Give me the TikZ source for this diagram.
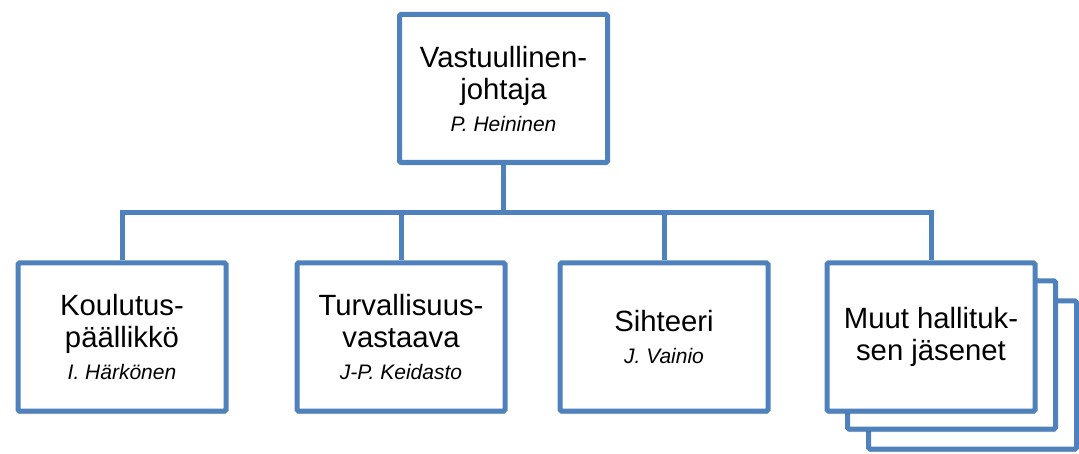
\documentclass[tikz,border=0pt]{standalone}
\usepackage{fontspec}
\setmainfont{Liberation Sans}
\usetikzlibrary{shadows}
\definecolor{boxblue}{RGB}{79,129,189}
\newcommand{\mainfnt}{\fontsize{29.3}{32}\selectfont}
\newcommand{\namefnt}{\fontsize{21}{28}\selectfont\itshape}
\tikzset{
  orgbox/.style={draw=boxblue, line width=5pt, fill=white, rounded corners=1.5pt,
    minimum width=208pt, minimum height=148pt, align=center, inner sep=0pt,
    font=\mainfnt,
    drop shadow={shadow xshift=0.5pt, shadow yshift=-3pt, opacity=0.18, fill=black}},
  conn/.style={draw=boxblue, line width=5pt, line join=miter}
}
\begin{document}
\begin{tikzpicture}[x=1pt,y=-1pt]
\useasboundingbox (0,0) rectangle (1079,454);
\node[orgbox, minimum width=208pt, minimum height=148pt] (top) at (503.5,88.5)
  {Vastuullinen-\\johtaja\\\namefnt P. Heininen};
\node[orgbox] (kp) at (122,337) {Koulutus-\\päällikkö\\\namefnt I. Härkönen};
\node[orgbox] (tv) at (401,337) {Turvallisuus-\\vastaava\\\namefnt J-P. Keidasto};
\node[orgbox] (si) at (664,337) {Sihteeri\\\namefnt J. Vainio};
\node[orgbox] (m3) at (972.5,375) {};
\node[orgbox] (m2) at (951.5,355) {};
\node[orgbox] (mh) at (931,337) {Muut hallituk-\\sen jäsenet};
\coordinate (bus) at (0,213);
\draw[conn] (top.south) -- (top.south |- bus);
\draw[conn] (kp.north) -- (kp.north |- bus) -- (mh.north |- bus) -- (mh.north);
\draw[conn] (tv.north) -- (tv.north |- bus);
\draw[conn] (si.north) -- (si.north |- bus);
\end{tikzpicture}
\end{document}
